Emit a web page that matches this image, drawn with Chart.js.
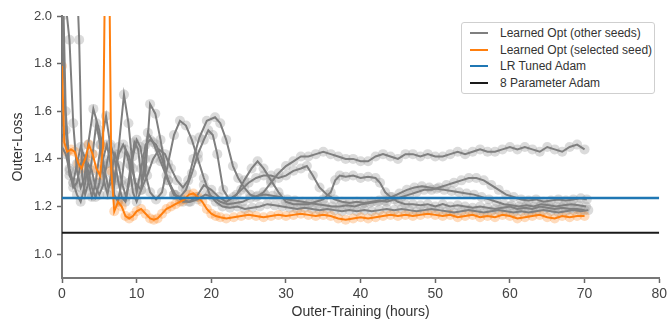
<!DOCTYPE html>
<html>
<head>
<meta charset="utf-8">
<script src="https://cdn.jsdelivr.net/npm/chart.js@4"></script>
<style>
  body { margin: 0; background: #fff; }
  #wrap { position: relative; width: 670px; height: 325px; }
  #legend {
    position: absolute; left: 461px; top: 22px; width: 192px; height: 70px;
    border: 1px solid #cfcfcf; border-radius: 3px; background: #fff;
    font-family: "Liberation Sans", Arial, sans-serif; font-size: 12px; color: #333;
  }
  #legend .row { position: absolute; left: 0; height: 16px; line-height: 16px; white-space: nowrap; }
  #legend .swatch { position: absolute; left: 8px; top: 7px; width: 18px; height: 2px; }
  #legend .label { position: absolute; left: 38px; top: 0; }
</style>
</head>
<body>
<div id="wrap">
  <canvas id="lossChart" width="670" height="325"></canvas>
  <div id="legend"></div>
</div>
<script>
// tick labels
const xTicks = [0, 10, 20, 30, 40, 50, 60, 70, 80];
const yTicks = [1.0, 1.2, 1.4, 1.6, 1.8, 2.0];

// baselines (hours -> loss)
const lrTunedAdam = [[0, 1.236], [80, 1.236]];
const eightParamAdam = [[0, 1.09], [80, 1.09]];

// selected seed [hours, outer-loss]
const selectedSeed = [
  [0, 1.79], [0.3, 1.47], [0.7, 1.43], [1.2, 1.44], [1.7, 1.43], [2.2, 1.38], [2.6, 1.36], [3.1, 1.40],
  [3.6, 1.46], [4.1, 1.42], [4.6, 1.36], [5.1, 1.33], [5.5, 1.45], [5.8, 2.3], [6.3, 2.3], [6.6, 1.35],
  [7.0, 1.18], [7.5, 1.22], [8.0, 1.20], [8.5, 1.16], [9.0, 1.15], [9.5, 1.16], [10.0, 1.18], [10.6, 1.19],
  [11.2, 1.17], [11.8, 1.15], [12.3, 1.145], [12.8, 1.15], [13.4, 1.17], [14.0, 1.19], [14.6, 1.20],
  [15.2, 1.21], [15.8, 1.22], [16.4, 1.23], [17.0, 1.25], [17.6, 1.255], [18.2, 1.24], [18.8, 1.22],
  [19.4, 1.19], [20.0, 1.17], [20.6, 1.16], [21.2, 1.155], [22, 1.15], [23, 1.155], [24, 1.16], [25, 1.165],
  [26, 1.16], [27, 1.155], [28, 1.16], [29, 1.165], [30, 1.16], [31, 1.165], [32, 1.17], [33, 1.165],
  [34, 1.16], [35, 1.165], [36, 1.16], [37, 1.15], [38, 1.145], [39, 1.15], [40, 1.155], [41, 1.15],
  [42, 1.155], [43, 1.16], [44, 1.165], [45, 1.16], [46, 1.165], [47, 1.16], [48, 1.165], [49, 1.17],
  [50, 1.165], [51, 1.16], [52, 1.165], [53, 1.155], [54, 1.16], [55, 1.165], [56, 1.155], [57, 1.16],
  [58, 1.155], [59, 1.165], [60, 1.16], [61, 1.15], [62, 1.155], [63, 1.16], [64, 1.165], [65, 1.155],
  [66, 1.15], [67, 1.16], [68, 1.155], [69, 1.16], [70, 1.16]
];

// other seeds
const seedA = [
  [0, 2.6], [0.5, 2.05], [1.0, 1.9], [1.5, 1.55], [2.0, 1.35], [2.5, 1.28], [3.0, 1.32], [3.5, 1.46],
  [4.2, 1.61], [5.0, 1.52], [5.6, 1.37], [6.2, 1.28], [7.0, 1.32], [7.6, 1.42], [8.2, 1.46], [9.0, 1.41],
  [9.8, 1.30], [10.6, 1.27], [11.4, 1.33], [12.2, 1.40], [13.0, 1.44], [13.8, 1.42], [14.6, 1.36],
  [15.4, 1.31], [16.2, 1.28], [16.9, 1.31], [17.6, 1.40], [18.4, 1.49], [19.4, 1.56], [20.5, 1.575],
  [21.2, 1.55], [22.0, 1.48], [22.9, 1.37], [23.6, 1.32], [24.4, 1.28], [25.2, 1.25], [26.0, 1.24],
  [27, 1.26], [28, 1.30], [29, 1.34], [30, 1.37], [31, 1.39], [32, 1.41], [33, 1.41], [34, 1.42],
  [35, 1.43], [36, 1.42], [37, 1.41], [38, 1.40], [39, 1.40], [40, 1.39], [41, 1.39], [42, 1.41],
  [43, 1.42], [44, 1.41], [45, 1.40], [46, 1.42], [47, 1.42], [48, 1.41], [49, 1.42], [50, 1.41],
  [51, 1.41], [52, 1.42], [53, 1.43], [54, 1.42], [55, 1.43], [56, 1.44], [57, 1.43], [58, 1.43],
  [59, 1.44], [60, 1.45], [61, 1.44], [62, 1.45], [63, 1.44], [64, 1.43], [65, 1.45], [66, 1.44],
  [67, 1.43], [68, 1.45], [69, 1.46], [70, 1.44]
];
const seedB = [
  [0, 2.3], [0.5, 1.6], [1.0, 1.36], [1.5, 1.30], [2.0, 1.38], [2.5, 1.45], [3.0, 1.41], [3.5, 1.31],
  [4.0, 1.24], [4.5, 1.30], [5.2, 1.46], [5.9, 1.58], [6.5, 1.45], [7.0, 1.29], [7.6, 1.45], [8.3, 1.67],
  [8.9, 1.55], [9.5, 1.36], [10.0, 1.26], [10.6, 1.36], [11.2, 1.46], [11.8, 1.48], [12.6, 1.46],
  [13.4, 1.40], [14.2, 1.31], [15.0, 1.25], [15.8, 1.24], [16.6, 1.27], [17.4, 1.34], [18.2, 1.42],
  [19.0, 1.48], [19.6, 1.52], [20.2, 1.50], [20.8, 1.42], [21.6, 1.27], [22.4, 1.23], [23.4, 1.25],
  [24.4, 1.31], [25.4, 1.36], [26.2, 1.39], [27.0, 1.36], [28, 1.31], [29, 1.26], [30, 1.22], [31, 1.21],
  [32, 1.21], [33, 1.21], [34, 1.22], [35, 1.23], [36, 1.26], [36.6, 1.31], [37.2, 1.33], [38, 1.325],
  [39, 1.33], [40, 1.32], [41, 1.325], [42, 1.32], [42.6, 1.30], [43.3, 1.26], [44, 1.24], [45, 1.22],
  [46, 1.21], [47, 1.21], [48, 1.205], [49, 1.21], [50, 1.20], [51, 1.21], [52, 1.20], [53, 1.205],
  [54, 1.20], [55, 1.195], [56, 1.20], [57, 1.195], [58, 1.19], [59, 1.195], [60, 1.20], [61, 1.19],
  [62, 1.195], [63, 1.19], [64, 1.20], [65, 1.195], [66, 1.19], [67, 1.195], [68, 1.19], [69, 1.19],
  [70, 1.185]
];
const seedC = [
  [0, 2.2], [1.0, 2.05], [2.0, 2.15], [2.3, 1.9], [2.7, 1.33], [3.1, 1.25], [3.6, 1.31], [4.1, 1.42],
  [4.6, 1.55], [5.1, 1.46], [5.6, 1.31], [6.1, 1.25], [6.6, 1.34], [7.1, 1.42], [7.6, 1.37], [8.1, 1.29],
  [8.6, 1.24], [9.2, 1.37], [9.7, 1.47], [10.2, 1.44], [10.7, 1.30], [11.2, 1.35], [11.8, 1.63],
  [12.5, 1.59], [13.2, 1.48], [14.0, 1.33], [15, 1.25], [16, 1.23], [17, 1.22], [18, 1.24], [19, 1.29],
  [20, 1.27], [21, 1.24], [22, 1.22], [23, 1.24], [24, 1.27], [25, 1.30], [26, 1.32], [27, 1.33],
  [28, 1.33], [29, 1.32], [30, 1.33], [31, 1.35], [32, 1.36], [32.8, 1.37], [33.6, 1.33], [34.5, 1.28],
  [35.5, 1.25], [36.5, 1.23], [37.5, 1.22], [38.5, 1.215], [39.5, 1.22], [40.5, 1.215], [41.5, 1.22],
  [42.5, 1.225], [43.5, 1.22], [44.5, 1.23], [45.5, 1.24], [46.5, 1.25], [47.5, 1.26], [48.5, 1.27],
  [49.5, 1.27], [50.5, 1.28], [51.5, 1.29], [52.5, 1.30], [53.5, 1.31], [54.5, 1.32], [55.5, 1.32],
  [56.5, 1.31], [57.5, 1.29], [58.5, 1.27], [59.5, 1.25], [60.5, 1.24], [61.5, 1.23], [62.5, 1.225],
  [63.5, 1.23], [64.5, 1.22], [65.5, 1.225], [66.5, 1.23], [67.5, 1.225], [68.5, 1.23], [69.5, 1.235],
  [70.3, 1.23]
];
const seedD = [
  [0, 1.45], [0.5, 1.42], [1.0, 1.35], [1.5, 1.28], [2.0, 1.30], [2.5, 1.38], [3.0, 1.40], [3.5, 1.35],
  [4.0, 1.28], [4.5, 1.24], [5.0, 1.30], [5.5, 1.40], [6.0, 1.46], [6.5, 1.38], [7.0, 1.25], [7.5, 1.22],
  [8.0, 1.31], [8.5, 1.44], [9.0, 1.38], [9.5, 1.26], [10.0, 1.22], [10.6, 1.27], [11.1, 1.40],
  [11.5, 1.51], [12.2, 1.47], [13.2, 1.39], [14.2, 1.31], [15.2, 1.25], [16.2, 1.22], [17.2, 1.22],
  [18.2, 1.23], [19.2, 1.25], [20.2, 1.24], [21.2, 1.22], [22.2, 1.21], [23.2, 1.215], [24.2, 1.22],
  [25.2, 1.235], [26.2, 1.245], [27.2, 1.25], [28.2, 1.245], [29.2, 1.24], [30.2, 1.23], [31.2, 1.225],
  [32.2, 1.22], [33.2, 1.215], [34.2, 1.21], [35.2, 1.205], [36.2, 1.20], [37.2, 1.20], [38.2, 1.205],
  [39.2, 1.20], [40.2, 1.21], [41.2, 1.215], [42.2, 1.22], [43.2, 1.225], [44.2, 1.24], [45.2, 1.255],
  [46.2, 1.27], [47.2, 1.28], [48.2, 1.285], [49.2, 1.28], [50.2, 1.275], [51.2, 1.27], [52.2, 1.265],
  [53.2, 1.26], [54.2, 1.255], [55.2, 1.25], [56.2, 1.24], [57.2, 1.23], [58.2, 1.22], [59.2, 1.21],
  [60.2, 1.205], [61.2, 1.20], [62.2, 1.205], [63.2, 1.20], [64.2, 1.21], [65.2, 1.205], [66.2, 1.20],
  [67.2, 1.205], [68.2, 1.21], [69.2, 1.205], [70.2, 1.20]
];
const seedE = [
  [0, 2.0], [0.5, 1.52], [1.0, 1.33], [1.5, 1.30], [2.0, 1.25], [2.5, 1.22], [3.0, 1.28], [3.5, 1.38],
  [4.0, 1.35], [4.5, 1.28], [5.0, 1.25], [5.5, 1.29], [6.0, 1.38], [6.5, 1.46], [7.0, 1.41], [7.5, 1.31],
  [8.0, 1.24], [8.5, 1.22], [9.0, 1.30], [9.5, 1.41], [10.0, 1.48], [10.5, 1.45], [11.0, 1.36],
  [11.8, 1.26], [12.6, 1.23], [13.4, 1.26], [14.2, 1.38], [15.0, 1.50], [15.8, 1.56], [16.6, 1.54],
  [17.4, 1.48], [18.2, 1.40], [19.0, 1.32], [19.8, 1.25], [20.6, 1.22], [21.5, 1.20], [22.5, 1.195],
  [23.5, 1.20], [24.5, 1.19], [25.5, 1.195], [26.5, 1.20], [27.5, 1.21], [28.5, 1.205], [29.5, 1.20],
  [30.5, 1.195], [31.5, 1.19], [32.5, 1.195], [33.5, 1.19], [34.5, 1.185], [35.5, 1.19], [36.5, 1.185],
  [37.5, 1.18], [38.5, 1.185], [39.5, 1.18], [40.5, 1.185], [41.5, 1.18], [42.5, 1.185], [43.5, 1.19],
  [44.5, 1.185], [45.5, 1.19], [46.5, 1.185], [47.5, 1.18], [48.5, 1.185], [49.5, 1.19], [50.5, 1.185],
  [51.5, 1.18], [52.5, 1.175], [53.5, 1.18], [54.5, 1.185], [55.5, 1.18], [56.5, 1.175], [57.5, 1.18],
  [58.5, 1.185], [59.5, 1.18], [60.5, 1.175], [61.5, 1.18], [62.5, 1.175], [63.5, 1.18], [64.5, 1.185],
  [65.5, 1.18], [66.5, 1.175], [67.5, 1.18], [68.5, 1.185], [69.5, 1.18], [70.5, 1.185]
];
const otherSeeds = [seedA, seedB, seedC, seedD, seedE];

const GRAY = '#7f7f7f', ORANGE = '#ff7f0e', BLUE = '#1f77b4', BLACK = '#1a1a1a';
const toXY = pts => pts.map(([x, y]) => ({ x: x, y: y }));

function lineSet(pts, color, width, order) {
  return { data: toXY(pts), borderColor: color, borderWidth: width, pointRadius: 0, tension: 0, order: order };
}
function dotSet(pts, color, order) {
  return { data: toXY(pts), showLine: false, pointRadius: 5, pointBorderWidth: 0,
           pointBackgroundColor: color, order: order };
}

const datasets = [
  lineSet(lrTunedAdam, BLUE, 2.5, 0),
  lineSet(eightParamAdam, BLACK, 2, 1),
  lineSet(selectedSeed, ORANGE, 2, 2),
  ...otherSeeds.map(s => lineSet(s, GRAY, 2, 3)),
  dotSet(selectedSeed, 'rgba(255,127,14,0.28)', 4),
  ...otherSeeds.map(s => dotSet(s, 'rgba(160,160,160,0.38)', 5)),
];

const font = "'Liberation Sans', Arial, sans-serif";

new Chart(document.getElementById('lossChart'), {
  type: 'line',
  data: { datasets: datasets },
  options: {
    responsive: false,
    animation: false,
    devicePixelRatio: 1,
    layout: { padding: { top: 16, right: 10, left: 0, bottom: 0 } },
    plugins: { legend: { display: false }, tooltip: { enabled: false } },
    scales: {
      x: {
        type: 'linear', min: 0, max: 80,
        afterBuildTicks: scale => { scale.ticks = xTicks.map(v => ({ value: v })); },
        afterFit: scale => { scale.height = 47; },
        ticks: { font: { family: font, size: 14 }, color: '#444', padding: 3, maxRotation: 0 },
        grid: { drawOnChartArea: false, drawTicks: true, tickLength: 5, tickColor: '#666', tickWidth: 1.5 },
        border: { display: true, color: '#777', width: 2 },
        title: { display: true, text: 'Outer-Training (hours)', font: { family: font, size: 14 },
                 color: '#333', padding: { top: 0, bottom: 4 } }
      },
      y: {
        min: 0.9, max: 2.0,
        afterBuildTicks: scale => { scale.ticks = yTicks.map(v => ({ value: v })); },
        afterFit: scale => { scale.width = 62; },
        ticks: { font: { family: font, size: 13 }, color: '#444', padding: 5,
                 callback: v => v.toFixed(1) },
        grid: { drawOnChartArea: false, drawTicks: true, tickLength: 5, tickColor: '#666', tickWidth: 1.5 },
        border: { display: true, color: '#777', width: 2 },
        title: { display: true, text: 'Outer-Loss', font: { family: font, size: 14 },
                 color: '#333', padding: { top: 10, bottom: 0 } }
      }
    }
  }
});

// legend
const legendItems = [
  ['Learned Opt (other seeds)', GRAY],
  ['Learned Opt (selected seed)', ORANGE],
  ['LR Tuned Adam', BLUE],
  ['8 Parameter Adam', BLACK]
];
const legend = document.getElementById('legend');
legendItems.forEach(([text, color], i) => {
  const row = document.createElement('div');
  row.className = 'row';
  row.style.top = (2 + i * 16.7) + 'px';
  row.innerHTML = '<span class="swatch" style="background:' + color + '"></span><span class="label">' + text + '</span>';
  legend.appendChild(row);
});
</script>
</body>
</html>
